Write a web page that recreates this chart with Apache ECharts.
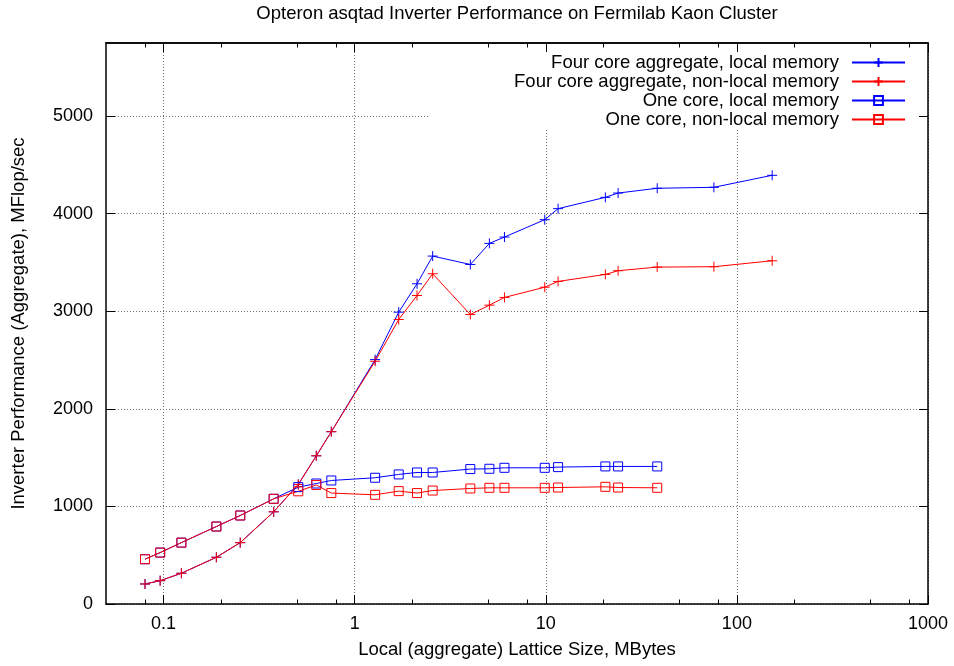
<!DOCTYPE html>
<html>
<head>
<meta charset="utf-8">
<script src="https://cdn.jsdelivr.net/npm/echarts@6/dist/echarts.min.js"></script>
<style>
  html, body { margin: 0; padding: 0; background: #fff; }
  #chart { width: 954px; height: 666px; }
</style>
</head>
<body>
<div id="chart"></div>
<script>
  // lattice size (MBytes) shared by all four runs
  var sizeMB = [0.080, 0.096, 0.124, 0.189, 0.252, 0.377, 0.507, 0.630, 0.755, 1.28, 1.70, 2.12,
                2.56, 4.03, 5.07, 6.08, 9.88, 11.6, 20.5, 23.9, 38.3, 75.8, 153];

  // MFlop/sec
  var fourLocal = [205, 239, 315, 479, 629, 945, 1225, 1519, 1766, 2505, 2991, 3282,
                   3566, 3480, 3696, 3761, 3939, 4052, 4168, 4212, 4261, 4271, 4394];
  var fourNonLocal = [205, 239, 315, 479, 629, 945, 1225, 1519, 1766, 2488, 2916, 3162,
                      3385, 2967, 3063, 3142, 3247, 3306, 3378, 3416, 3453, 3457, 3518];
  var oneLocal = [459, 527, 629, 794, 907, 1078, 1198, 1235, 1266, 1294, 1328, 1348,
                  1348, 1383, 1386, 1396, 1396, 1403, 1410, 1410, 1410];
  var oneNonLocal = [459, 527, 629, 794, 907, 1078, 1155, 1220, 1137, 1119, 1157, 1137,
                     1163, 1184, 1191, 1191, 1191, 1194, 1201, 1194, 1191];

  var xMajor = [0.1, 1, 10, 100, 1000];
  var xMinor = [0.08, 0.2, 0.5, 0.8, 2, 5, 8, 20, 50, 80, 200, 500, 800];
  var yMajor = [0, 1000, 2000, 3000, 4000, 5000];

  var names = ['Four core aggregate, local memory', 'Four core aggregate, non-local memory',
               'One core, local memory', 'One core, non-local memory'];

  var BLUE = '#0000ff', RED = '#ff0000';
  var FONT = 'Liberation Sans';
  var PLUS = 'path://M5,0 L5,10 M0,5 L10,5';
  var SQUARE = 'path://M0,0 L10,0 L10,10 L0,10 Z';

  function pairs(ys) {
    return ys.map(function (v, i) { return [sizeMB[i], v]; });
  }

  function mkSeries(name, ys, color, sym, size) {
    return {
      name: name,
      type: 'line',
      data: pairs(ys),
      symbol: sym,
      symbolSize: size,
      showAllSymbol: true,
      lineStyle: { color: color, width: 1 },
      itemStyle: { color: 'none', borderColor: color, borderWidth: 1 },
      emphasis: { disabled: true },
      silent: true
    };
  }

  var plain = function (v) { return String(v); };
  var border = { show: true, onZero: false, lineStyle: { color: '#000', width: 1.5 } };
  var grid = { type: [1, 2], color: '#707070', width: 1 };

  function xAxis(pos, ticks, len, main) {
    return {
      type: 'log', logBase: 10, min: 0.05, max: 1000, position: pos, z: main ? 0 : 10,
      axisLine: main ? border : { show: pos === 'top', onZero: false, lineStyle: border.lineStyle },
      axisTick: { show: true, inside: true, length: len, customValues: ticks,
                  lineStyle: { color: '#000', width: 1 } },
      axisLabel: main ? { show: true, customValues: xMajor, formatter: plain, fontFamily: FONT,
                          fontSize: 18, color: '#000', margin: 11 } : { show: false },
      splitLine: main ? { show: true, lineStyle: grid } : { show: false },
      name: main ? 'Local (aggregate) Lattice Size, MBytes' : '',
      nameLocation: 'middle', nameGap: 36,
      nameTextStyle: { fontFamily: FONT, fontSize: 18.5, color: '#000' }
    };
  }

  function yAxis(pos, main) {
    return {
      type: 'value', min: 0, max: 5750, position: pos, z: main ? 0 : 10,
      axisLine: border,
      axisTick: { show: true, inside: true, length: 9, customValues: yMajor,
                  lineStyle: { color: '#000', width: 1 } },
      axisLabel: main ? { show: true, customValues: yMajor, formatter: plain, fontFamily: FONT,
                          fontSize: 18, color: '#000', margin: 13 } : { show: false },
      splitLine: main ? { show: true, lineStyle: grid } : { show: false },
      name: main ? 'Inverter Performance (Aggregate), MFlop/sec' : '',
      nameLocation: 'middle', nameGap: 78,
      nameTextStyle: { fontFamily: FONT, fontSize: 18.5, color: '#000' }
    };
  }

  var chart = echarts.init(document.getElementById('chart'), null, { renderer: 'canvas' });
  chart.setOption({
    animation: false,
    backgroundColor: '#fff',
    title: {
      text: 'Opteron asqtad Inverter Performance on Fermilab Kaon Cluster',
      left: 517, textAlign: 'center', top: 4, padding: 0,
      textStyle: { fontFamily: FONT, fontSize: 18.5, fontWeight: 'normal', color: '#000' }
    },
    grid: { left: 106, right: 26, top: 43, bottom: 62, containLabel: false },
    legend: {
      data: names,
      orient: 'vertical', align: 'right',
      right: 27, top: 44,
      padding: [9, 21, 0, 84],
      itemWidth: 53, itemHeight: 11, itemGap: 0,
      backgroundColor: '#fff',
      z: 4,
      selectedMode: false,
      textStyle: { fontFamily: FONT, fontSize: 18.5, lineHeight: 18.4, color: '#000',
                   padding: [0, 8, 0, 0] }
    },
    xAxis: [
      xAxis('bottom', xMajor, 9, true),
      xAxis('bottom', xMinor, 4.5, false),
      xAxis('top', xMajor, 9, false),
      xAxis('top', xMinor, 4.5, false)
    ],
    yAxis: [
      yAxis('left', true),
      yAxis('right', false)
    ],
    series: [
      mkSeries(names[0], fourLocal, BLUE, PLUS, 10),
      mkSeries(names[1], fourNonLocal, RED, PLUS, 10),
      mkSeries(names[2], oneLocal, BLUE, SQUARE, 9),
      mkSeries(names[3], oneNonLocal, RED, SQUARE, 9)
    ]
  });
</script>
</body>
</html>
